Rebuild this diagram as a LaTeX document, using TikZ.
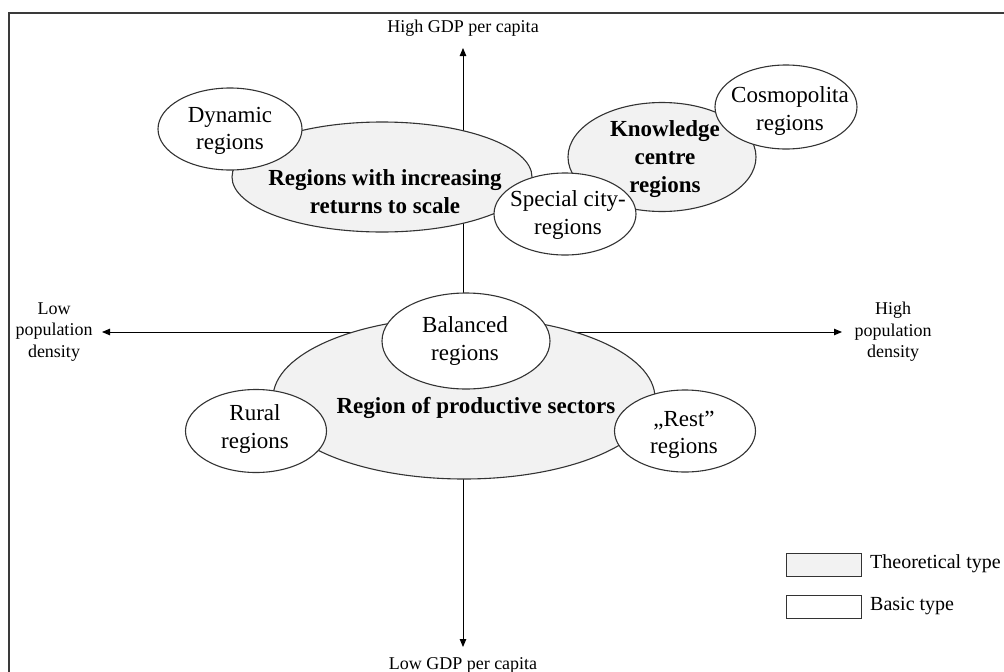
\documentclass[tikz,border=0pt]{standalone}
\usepackage{fontspec}
\setmainfont{Liberation Serif}
\usetikzlibrary{shapes.geometric,arrows.meta,calc}
\definecolor{linec}{HTML}{333333}
\definecolor{greyf}{HTML}{F2F2F2}
\definecolor{framec}{HTML}{3A3A3A}
\begin{document}
\begin{tikzpicture}[x=1pt,y=-1pt,
  ell/.style={ellipse, draw=linec, line width=1.1pt, inner sep=0pt},
  theo/.style={ell, fill=greyf},
  basic/.style={ell, fill=white},
  txt/.style={font=\fontsize{23}{27.6}\selectfont, align=center, inner sep=0pt},
  btxt/.style={font=\fontsize{23}{28}\selectfont\bfseries, align=center, inner sep=0pt},
  axl/.style={font=\fontsize{18}{21.5}\selectfont, align=center, inner sep=0pt},
  lgt/.style={font=\fontsize{20}{24}\selectfont, inner sep=0pt, anchor=west},
  lgbox/.style={draw=linec, line width=1pt, minimum width=75pt, minimum height=23pt, inner sep=0pt},
  axisarrow/.style={draw=black, line width=0.9pt, -{Triangle[length=8pt,width=6.5pt]}},
  ]
\useasboundingbox (0,0) rectangle (1004,672);
% frame
\draw[line width=1.5pt, draw=framec] (9,672) -- (9,13) -- (1004,13);
% axes
\coordinate (o) at (463,332);
\coordinate (top) at (463,48);
\coordinate (bot) at (463,647);
\coordinate (lft) at (102,332);
\coordinate (rgt) at (842,332);
\draw[axisarrow] (o) -- (top);
\draw[axisarrow] (o) -- (bot);
\draw[axisarrow] (o) -- (lft);
\draw[axisarrow] (o) -- (rgt);
\node[axl] (hgdp) at (463,28) {High GDP per capita};
\node[axl] (lgdp) at (463,665) {Low GDP per capita};
\node[axl] (lpop) at (54,332) {Low\\population\\density};
\node[axl] (hpop) at (893,332) {High\\population\\density};
% theoretical types
\node[theo, minimum width=300pt, minimum height=110pt] (irs) at (382,177) {};
\node[btxt] (irst) at (385,192) {Regions with increasing\\returns to scale};
\node[theo, minimum width=188pt, minimum height=109pt] (know) at (662,157) {};
\node[btxt] (knowt) at (665,159) {Knowledge\\centre\\regions};
\node[theo, minimum width=382pt, minimum height=162pt] (prod) at (464,398) {};
\node[btxt] (prodt) at (476,408) {Region of productive sectors};
% basic types
\node[basic, minimum width=144pt, minimum height=82pt] (dyn) at (230,129) {};
\node[txt] (dynt) at (230,131) {Dynamic\\regions};
\node[basic, minimum width=142pt, minimum height=84pt] (cosmo) at (786,107) {};
\node[txt] (cosmot) at (790,111) {Cosmopolita\\regions};
\node[basic, minimum width=142pt, minimum height=82pt] (spec) at (565,214) {};
\node[txt] (spect) at (568,215) {Special city-\\regions};
\node[basic, minimum width=168pt, minimum height=96pt] (bal) at (466,341) {};
\node[txt] (balt) at (465,341) {Balanced\\regions};
\node[basic, minimum width=141pt, minimum height=83pt] (rural) at (256,431) {};
\node[txt] (ruralt) at (255,429) {Rural\\regions};
\node[basic, minimum width=141pt, minimum height=82pt] (rest) at (685,431) {};
\node[txt] (restt) at (684,435) {„Rest”\\regions};
% legend
\node[lgbox, fill=greyf] (lg1) at (823.5,564.5) {};
\node[lgt] (lg1t) at (870,564) {Theoretical type};
\node[lgbox, fill=white] (lg2) at (823.5,606.5) {};
\node[lgt] (lg2t) at (870,606) {Basic type};
\end{tikzpicture}
\end{document}
